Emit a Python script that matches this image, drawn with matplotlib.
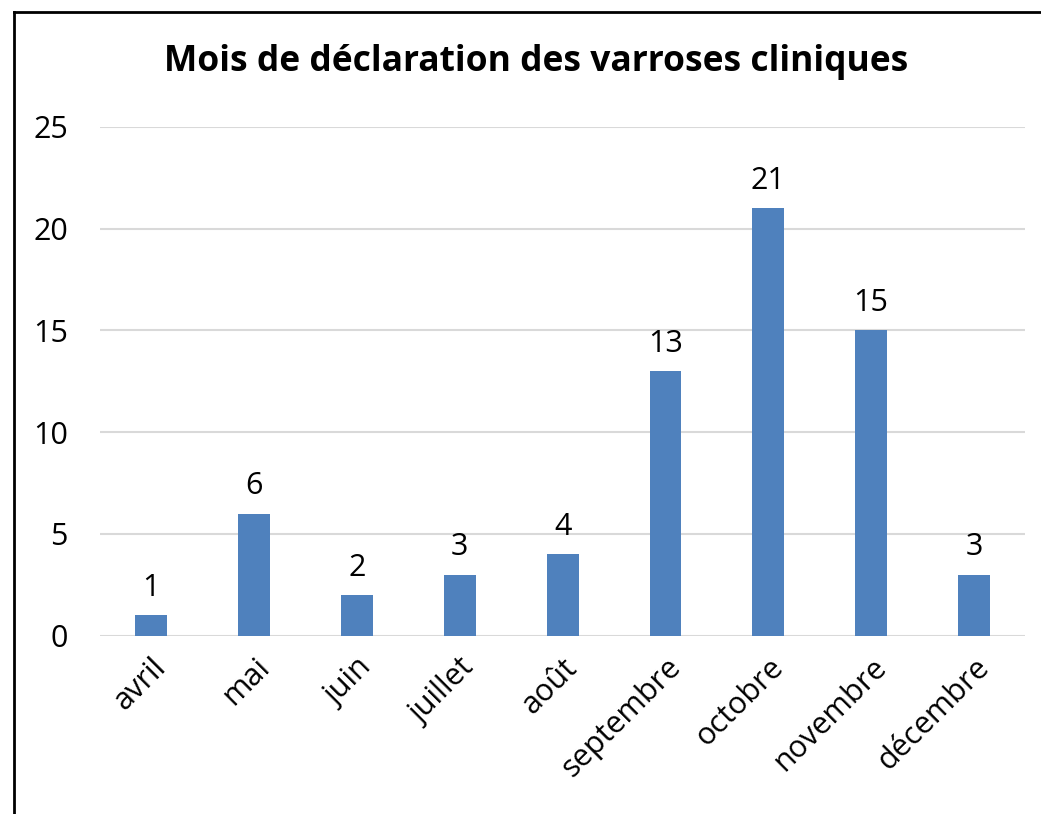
import matplotlib.pyplot as plt
from matplotlib.lines import Line2D

months = ['avril', 'mai', 'juin', 'juillet', 'août', 'septembre',
          'octobre', 'novembre', 'décembre']
counts = [1, 6, 2, 3, 4, 13, 21, 15, 3]
yticks = [0, 5, 10, 15, 20, 25]

plt.rcParams['font.family'] = ['Open Sans', 'DejaVu Sans']

fig = plt.figure(figsize=(10.41, 8.14), dpi=100)
ax = fig.add_axes([0.096, 0.219, 0.889, 0.625])

x = range(len(months))
bars = ax.bar(x, counts, width=0.31, color='#4f81bd', zorder=3)
for b, v in zip(bars, counts):
    ax.text(b.get_x() + b.get_width() / 2, v + 0.6, str(v),
            ha='center', va='bottom', fontsize=22)

ax.set_xlim(-0.5, len(months) - 0.5)
ax.set_ylim(0, 25)
ax.set_yticks(yticks)
ax.set_yticklabels([str(t) for t in yticks], fontsize=22)
ax.set_xticks(list(x))
ax.set_xticklabels(months, rotation=45, ha='right', rotation_mode='anchor',
                   fontsize=22)
ax.tick_params(length=0)
ax.tick_params(axis='y', pad=23)
ax.tick_params(axis='x', pad=12)
ax.grid(axis='y', color='#d9d9d9', linewidth=1.5, zorder=0)
for s in ax.spines.values():
    s.set_visible(False)

fig.text(0.515, 0.924, 'Mois de déclaration des varroses cliniques',
         ha='center', va='center', fontsize=25.5, fontweight='bold')

# outer frame (left and top edges only visible)
fig.add_artist(Line2D([14 / 1041, 14 / 1041], [0, 1 - 12 / 814],
                      transform=fig.transFigure, color='black', linewidth=2))
fig.add_artist(Line2D([14 / 1041, 1], [1 - 12 / 814, 1 - 12 / 814],
                      transform=fig.transFigure, color='black', linewidth=2))

fig.savefig('out.png', dpi=100)
